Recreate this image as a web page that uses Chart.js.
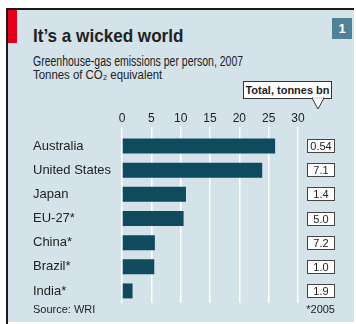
<!DOCTYPE html>
<html>
<head>
<meta charset="utf-8">
<script src="https://cdn.jsdelivr.net/npm/chart.js@4"></script>
<style>
  body { margin: 0; background: #fff; width: 356px; height: 324px; overflow: hidden; font-family: "Liberation Sans", Arial, sans-serif; color: #222; }
  .abs { position: absolute; white-space: nowrap; }
  #panel { left: 8px; top: 10px; width: 346px; height: 312px; background: #d4e2ea; }
  #frameL { left: 6px; top: 8px; width: 2px; height: 316px; background: #1a1a1a; }
  #frameT { left: 6px; top: 8px; width: 348px; height: 2px; background: #1a1a1a; }
  #red { left: 8px; top: 10px; width: 9px; height: 33px; background: #e2001a; }
  #title { left: 33px; top: 26px; font-size: 19px; line-height: 19px; font-weight: bold; transform: scaleX(0.9); transform-origin: left; }
  #sub { left: 33px; top: 54px; font-size: 14px; line-height: 14px; transform: scaleX(0.75); transform-origin: left; }
  #unit { left: 33px; top: 69px; font-size: 12px; line-height: 12px; transform: scaleX(0.95); transform-origin: left; }
  #badge { left: 332px; top: 18px; width: 20px; height: 21px; background: #4f8197; color: #fff; font-weight: bold; font-size: 13px; line-height: 21px; text-align: center; }
  #callout { left: 243px; top: 81px; width: 87px; height: 16px; border: 1px solid #333; background: #fff; font-size: 11px; line-height: 16px; font-weight: bold; text-align: center; }
  #source { left: 33px; top: 304px; font-size: 11px; line-height: 11px; }
  #note { right: 21px; top: 304px; font-size: 11px; line-height: 11px; }
  canvas { position: absolute; left: 0; top: 0; }
</style>
</head>
<body>
<div class="abs" id="panel"></div>
<div class="abs" id="frameL"></div>
<div class="abs" id="frameT"></div>
<div class="abs" id="red"></div>
<div class="abs" id="title">It’s a wicked world</div>
<div class="abs" id="sub">Greenhouse-gas emissions per person, 2007</div>
<div class="abs" id="unit">Tonnes of CO₂ equivalent</div>
<div class="abs" id="badge">1</div>
<canvas id="myChart" width="356" height="324"></canvas>
<div class="abs" id="callout">Total, tonnes bn</div>
<svg class="abs" style="left:0;top:0" width="356" height="324">
  <polygon points="312,98 324,98 318,109" fill="#fff" stroke="#333" stroke-width="1"/>
  <line x1="313" y1="98" x2="323" y2="98" stroke="#fff" stroke-width="1.5"/>
</svg>
<div class="abs" id="source">Source: WRI</div>
<div class="abs" id="note">*2005</div>
<script>
// data
const countries = ["Australia", "United States", "Japan", "EU-27*", "China*", "Brazil*", "India*"];
const perPerson = [26.1, 23.9, 10.9, 10.5, 5.6, 5.5, 1.8];
const totals = ["0.54", "7.1", "1.4", "5.0", "7.2", "1.0", "1.9"];
const xTicks = [0, 5, 10, 15, 20, 25, 30];

// boxes with total emissions, one per row
const totalsBoxes = {
  id: "totalsBoxes",
  afterDatasetsDraw(chart) {
    const ctx = chart.ctx;
    const y = chart.scales.y;
    ctx.save();
    ctx.font = "11px 'Liberation Sans', Arial, sans-serif";
    ctx.textAlign = "center";
    ctx.textBaseline = "middle";
    totals.forEach((t, i) => {
      const py = Math.round(y.getPixelForValue(i));
      ctx.fillStyle = "#fff";
      ctx.fillRect(307.5, py - 6.5, 27, 13);
      ctx.strokeStyle = "#444";
      ctx.lineWidth = 1;
      ctx.strokeRect(307.5, py - 6.5, 27, 13);
      ctx.fillStyle = "#222";
      ctx.fillText(t, 321, py + 0.5);
    });
    ctx.restore();
  },
};

const config = {
  type: "bar",
  data: {
    labels: countries,
    datasets: [
      {
        data: perPerson,
        backgroundColor: "#0f4a5f",
        borderWidth: 0,
        barPercentage: 0.62,
        categoryPercentage: 1,
      },
    ],
  },
  options: {
    indexAxis: "y",
    responsive: false,
    animation: false,
    layout: { padding: { left: 33, right: 58, top: 100, bottom: 21 } },
    plugins: { legend: { display: false }, tooltip: { enabled: false } },
    scales: {
      x: {
        position: "top",
        min: 0,
        max: 30,
        afterBuildTicks: (scale) => { scale.ticks = xTicks.map((v) => ({ value: v })); },
        afterFit: (scale) => { scale.height = 34; },
        ticks: { color: "#222", font: { size: 12, family: "'Liberation Sans', Arial" }, padding: 1 },
        grid: { color: "#fff", lineWidth: 1.5, tickLength: 7, tickColor: "#fff" },
        border: { display: false },
      },
      y: {
        afterFit: (scale) => { scale.width = 89; },
        ticks: { color: "#222", crossAlign: "far", font: { size: 13, family: "'Liberation Sans', Arial" } },
        grid: { display: false },
        border: { display: false },
      },
    },
  },
  plugins: [totalsBoxes],
};

const myChart = new Chart(document.getElementById("myChart"), config);
</script>
</body>
</html>
